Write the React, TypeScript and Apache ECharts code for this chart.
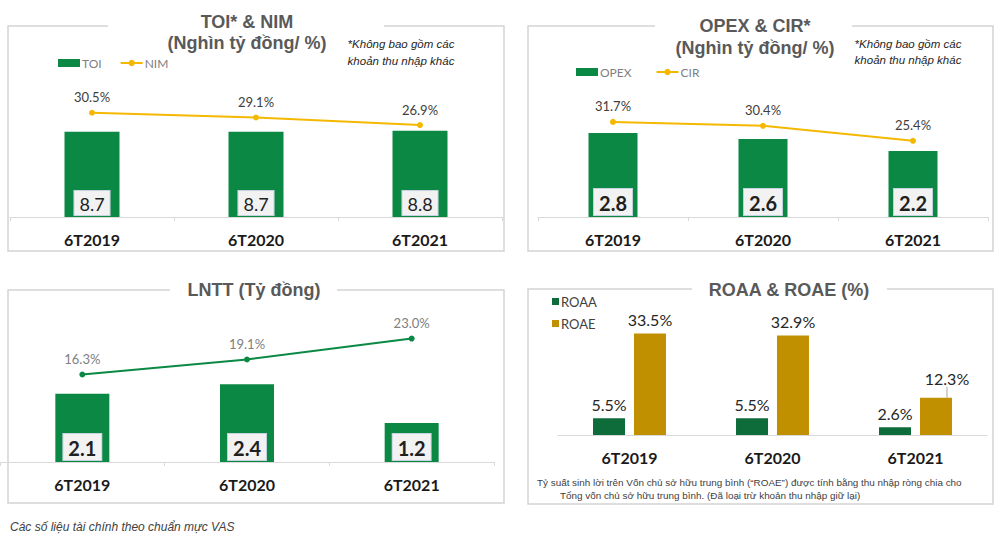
import React, { useEffect, useRef } from "react";
import * as echarts from "echarts";

const categories = ["6T2019", "6T2020", "6T2021"];
const toi = [8.7, 8.7, 8.8];
const nim = [30.5, 29.1, 26.9];
const opex = [2.8, 2.6, 2.2];
const cir = [31.7, 30.4, 25.4];
const lntt = [2.1, 2.4, 1.2];
const lnttRate = [16.3, 19.1, 23.0];
const roaa = [5.5, 5.5, 2.6];
const roae = [33.5, 32.9, 12.3];

const titles1 = ["TOI* & NIM", "(Nghìn tỷ đồng/ %)"];
const titles2 = ["OPEX & CIR*", "(Nghìn tỷ đồng/ %)"];
const title3 = "LNTT (Tỷ đồng)";
const title4 = "ROAA & ROAE (%)";
const noteLines = ["*Không bao gồm các", "khoản thu nhập khác"];
const roaeNote = [
  "Tỷ suất sinh lời trên Vốn chủ sở hữu trung bình (\u201CROAE\u201D) được tính bằng thu nhập ròng chia cho",
  "Tổng vốn chủ sở hữu trung bình. (Đã loại trừ khoản thu nhập giữ lại)",
];
const footNote = "Các số liệu tài chính theo chuẩn mực VAS";

const GREEN = "#0b8944";
const DARKGREEN = "#0e6b3a";
const GOLD = "#c09000";
const YELLOW = "#f5b800";
const BORDER = "#d4d4d4";
const TITLE = "#595959";

const catFont = "Lato, 'Open Sans', sans-serif";
const titleFont = "'Liberation Sans', Arial, sans-serif";

function xAxisFor(gridIndex: number, showTick: boolean) {
  return {
    gridIndex,
    type: "category",
    data: categories,
    axisLine: { lineStyle: { color: "#d9d9d9", width: 1 } },
    axisTick: { show: showTick, length: 4, lineStyle: { color: "#d9d9d9" } },
    axisLabel: {
      margin: 14,
      fontSize: 16,
      fontWeight: "bold",
      color: "#1a1a1a",
      fontFamily: catFont,
    },
  };
}

function yAxisFor(gridIndex: number, max: number) {
  return { gridIndex, type: "value", min: 0, max, show: false };
}

const boxLabel = (size: number, weight: string) => ({
  show: true,
  position: "insideBottom",
  distance: 2,
  fontSize: size,
  fontWeight: weight,
  fontFamily: catFont,
  color: "#1f1f1f",
  backgroundColor: "#f2f2f2",
  borderColor: "#c5d3e0",
  borderWidth: 1,
  padding: [4, 5, 2, 5],
});

const pctLabel = (color: string) => ({
  show: true,
  position: "top",
  distance: 6,
  fontSize: 13,
  fontFamily: catFont,
  color,
  formatter: (p: any) => Number(p.value).toFixed(1) + "%",
});

function frame(x0: number, y0: number, x1: number, y1: number, g0: number, g1: number) {
  return {
    type: "polyline",
    silent: true,
    shape: {
      points: [
        [g0, y0],
        [x0, y0],
        [x0, y1],
        [x1, y1],
        [x1, y0],
        [g1, y0],
      ],
    },
    style: { stroke: BORDER, lineWidth: 1.5, fill: "none" },
  };
}

function txt(text: string, x: number, y: number, opts: any) {
  return {
    type: "text",
    x,
    y,
    silent: true,
    style: {
      text,
      align: opts.align || "center",
      verticalAlign: "middle",
      fill: opts.fill || "#262626",
      fontSize: opts.fontSize || 12,
      fontWeight: opts.fontWeight || "normal",
      fontStyle: opts.fontStyle || "normal",
      fontFamily: opts.fontFamily || titleFont,
    },
  };
}

export default function App() {
  const ref = useRef<HTMLDivElement>(null);
  useEffect(() => {
    if (!ref.current) return;
    const chart = echarts.init(ref.current, null, { renderer: "svg" });
    const barPctLabel = {
      show: true,
      position: "top",
      distance: 6,
      fontSize: 16,
      fontFamily: catFont,
      color: "#262626",
      formatter: "{c}%",
    };
    const option: any = {
      animation: false,
      backgroundColor: "#ffffff",
      grid: [
        { left: 10, width: 492, top: 70, height: 147 },
        { left: 538, width: 450, top: 70, height: 147 },
        { left: -4, width: 498, top: 316, height: 146 },
        { left: 558, width: 429, top: 320, height: 115 },
      ],
      xAxis: [xAxisFor(0, true), xAxisFor(1, true), xAxisFor(2, true), xAxisFor(3, false)],
      yAxis: [
        yAxisFor(0, 15),
        yAxisFor(0, 43),
        yAxisFor(1, 4.9),
        yAxisFor(1, 49),
        yAxisFor(2, 4.5),
        yAxisFor(2, 27.2),
        yAxisFor(3, 38),
      ],
      legend: [
        {
          data: [{ name: "TOI", icon: "rect" }, { name: "NIM" }],
          left: 53,
          top: 52,
          itemWidth: 22,
          itemHeight: 8,
          itemGap: 18,
          selectedMode: false,
          textStyle: { color: "#7f7f7f", fontSize: 12, fontFamily: catFont, padding: [0, 0, 0, -3] },
        },
        {
          data: [{ name: "OPEX", icon: "rect" }, { name: "CIR" }],
          left: 571,
          top: 61,
          itemWidth: 22,
          itemHeight: 8,
          itemGap: 24,
          selectedMode: false,
          textStyle: { color: "#7f7f7f", fontSize: 12, fontFamily: catFont, padding: [0, 0, 0, -3] },
        },
        {
          data: [
            { name: "ROAA", icon: "rect" },
            { name: "ROAE", icon: "rect" },
          ],
          left: 547,
          top: 290,
          orient: "vertical",
          itemWidth: 7,
          itemHeight: 7,
          itemGap: 9,
          selectedMode: false,
          textStyle: { color: "#404040", fontSize: 13, fontFamily: catFont, padding: [0, 0, 0, -3] },
        },
      ],
      series: [
        {
          name: "TOI",
          type: "bar",
          xAxisIndex: 0,
          yAxisIndex: 0,
          data: toi,
          barWidth: 55,
          itemStyle: { color: GREEN },
          label: boxLabel(18, "normal"),
        },
        {
          name: "NIM",
          type: "line",
          xAxisIndex: 0,
          yAxisIndex: 1,
          data: nim,
          symbol: "circle",
          symbolSize: 6,
          lineStyle: { color: YELLOW, width: 2 },
          itemStyle: { color: YELLOW },
          label: pctLabel("#404040"),
          z: 5,
        },
        {
          name: "OPEX",
          type: "bar",
          xAxisIndex: 1,
          yAxisIndex: 2,
          data: opex,
          barWidth: 49,
          itemStyle: { color: GREEN },
          label: boxLabel(20, "bold"),
        },
        {
          name: "CIR",
          type: "line",
          xAxisIndex: 1,
          yAxisIndex: 3,
          data: cir,
          symbol: "circle",
          symbolSize: 6,
          lineStyle: { color: YELLOW, width: 2 },
          itemStyle: { color: YELLOW },
          label: pctLabel("#404040"),
          z: 5,
        },
        {
          name: "LNTT",
          type: "bar",
          xAxisIndex: 2,
          yAxisIndex: 4,
          data: lntt,
          barWidth: 54,
          itemStyle: { color: GREEN },
          label: boxLabel(20, "bold"),
        },
        {
          name: "Tỷ lệ",
          type: "line",
          xAxisIndex: 2,
          yAxisIndex: 5,
          data: lnttRate,
          symbol: "circle",
          symbolSize: 6,
          lineStyle: { color: GREEN, width: 2 },
          itemStyle: { color: GREEN },
          label: pctLabel("#808080"),
          z: 5,
        },
        {
          name: "ROAA",
          type: "bar",
          xAxisIndex: 3,
          yAxisIndex: 6,
          data: roaa,
          barWidth: 32,
          barGap: "28%",
          itemStyle: { color: DARKGREEN },
          label: barPctLabel,
        },
        {
          name: "ROAE",
          type: "bar",
          xAxisIndex: 3,
          yAxisIndex: 6,
          data: roae.map((v, i) =>
            i === 2 ? { value: v, labelLine: { show: true, lineStyle: { color: "#a6a6a6" } } } : v
          ),
          barWidth: 32,
          barGap: "28%",
          itemStyle: { color: GOLD },
          labelLayout: (p: any) => (p.dataIndex === 2 ? { dx: 11, dy: -5 } : {}),
          label: barPctLabel,
        },
      ],
      graphic: [
        frame(8, 26, 504, 251, 108, 384),
        frame(528, 26, 993, 251, 655, 852),
        frame(8, 290, 504, 503, 170, 337),
        frame(528, 289, 993, 504, 692, 887),
        txt(titles1[0], 247, 22, { fill: TITLE, fontSize: 18, fontWeight: "bold" }),
        txt(titles1[1], 247, 43, { fill: TITLE, fontSize: 18, fontWeight: "bold" }),
        txt(titles2[0], 755, 26, { fill: TITLE, fontSize: 18, fontWeight: "bold" }),
        txt(titles2[1], 755, 48, { fill: TITLE, fontSize: 18, fontWeight: "bold" }),
        txt(title3, 254, 290, { fill: TITLE, fontSize: 18, fontWeight: "bold" }),
        txt(title4, 789, 290, { fill: TITLE, fontSize: 18, fontWeight: "bold" }),
        txt(noteLines[0], 401, 44, { fontSize: 11.5, fontStyle: "italic" }),
        txt(noteLines[1], 401, 61, { fontSize: 11.5, fontStyle: "italic" }),
        txt(noteLines[0], 908, 44, { fontSize: 11.5, fontStyle: "italic" }),
        txt(noteLines[1], 908, 60, { fontSize: 11.5, fontStyle: "italic" }),
        txt("23", 411, 141, { fill: "#5aa57c", fontSize: 13, fontFamily: catFont }),
        txt(roaeNote[0], 537, 482, { align: "left", fill: "#404040", fontSize: 9.9 }),
        txt(roaeNote[1], 560, 495, { align: "left", fill: "#404040", fontSize: 9.9 }),
        txt(footNote, 10, 527, { align: "left", fill: "#404040", fontSize: 12, fontStyle: "italic" }),
      ],
    };
    chart.setOption(option);
    return () => chart.dispose();
  }, []);
  return (
    <div
      ref={ref}
      style={{ position: "fixed", left: 0, top: 0, width: 1000, height: 539, background: "#fff" }}
    />
  );
}
